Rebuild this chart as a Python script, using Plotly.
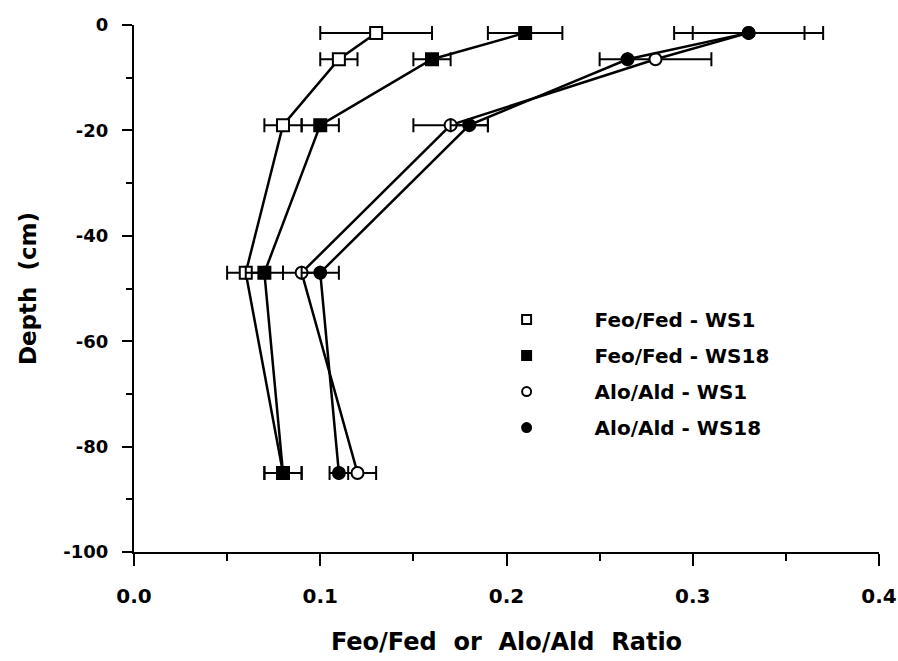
import plotly.graph_objects as go

depth = [-1.5, -6.5, -19, -47, -85]

feo_ws1 = [0.13, 0.11, 0.08, 0.06, 0.08]
feo_ws1_err = [0.03, 0.01, 0.01, 0.01, 0.01]
feo_ws18 = [0.21, 0.16, 0.10, 0.07, 0.08]
feo_ws18_err = [0.02, 0.01, 0.01, 0.01, 0.01]
alo_ws1 = [0.33, 0.28, 0.17, 0.09, 0.12]
alo_ws1_err = [0.04, 0.03, 0.02, 0.01, 0.01]
alo_ws18 = [0.33, 0.265, 0.18, 0.10, 0.11]
alo_ws18_err = [0.03, 0.0, 0.01, 0.01, 0.005]

series_names = ["Feo/Fed - WS1", "Feo/Fed - WS18", "Alo/Ald - WS1", "Alo/Ald - WS18"]
x_tickvals = [0.0, 0.1, 0.2, 0.3, 0.4]
x_ticktext = ["0.0", "0.1", "0.2", "0.3", "0.4"]
y_tickvals = [0, -20, -40, -60, -80, -100]
y_ticktext = ["0", "-20", "-40", "-60", "-80", "-100"]
x_title = "Feo/Fed\u00a0 or\u00a0 Alo/Ald\u00a0 Ratio"
y_title = "Depth\u00a0 (cm)"

FONT = "DejaVu Sans"
series = [
    (feo_ws1, feo_ws1_err, "square", "white"),
    (feo_ws18, feo_ws18_err, "square", "black"),
    (alo_ws1, alo_ws1_err, "circle", "white"),
    (alo_ws18, alo_ws18_err, "circle", "black"),
]

fig = go.Figure()
for (vals, errs, sym, fill), name in zip(series, series_names):
    fig.add_trace(go.Scatter(
        x=vals, y=depth, mode="lines+markers", name=name, showlegend=False,
        line=dict(color="black", width=2.5),
        marker=dict(symbol=sym, size=12, color=fill, line=dict(color="black", width=2)),
        error_x=dict(type="data", array=errs, visible=True, color="black", thickness=2, width=7),
        cliponaxis=False,
    ))
for (vals, errs, sym, fill), name in zip(series, series_names):
    fig.add_trace(go.Scatter(
        x=[None], y=[None], mode="markers", name=name, legendgroup=name,
        marker=dict(symbol=sym, size=9, color=fill, line=dict(color="black", width=2)),
    ))

fig.update_layout(
    width=898, height=661,
    margin=dict(l=134, r=19, t=25, b=109),
    paper_bgcolor="white", plot_bgcolor="white",
    font=dict(family=FONT, color="black", weight="bold"),
    showlegend=True,
    legend=dict(
        x=0.4357, y=0.478, xanchor="left", yanchor="top",
        font=dict(family=FONT, size=20, weight="bold", color="black"),
        itemwidth=126, tracegroupgap=7, bgcolor="rgba(0,0,0,0)",
    ),
    xaxis=dict(
        range=[0, 0.4], tickvals=x_tickvals, ticktext=x_ticktext, automargin=False,
        showgrid=False, zeroline=False, showline=True, linecolor="black", linewidth=2,
        ticks="outside", ticklen=12, tickwidth=2, tickcolor="black",
        tickfont=dict(family=FONT, size=20, weight="bold"), ticklabelstandoff=13,
        minor=dict(dtick=0.05, ticks="outside", ticklen=7, tickwidth=2, tickcolor="black", showgrid=False),
        title=dict(text=x_title, font=dict(family=FONT, size=24, weight="bold"), standoff=26),
    ),
    yaxis=dict(
        range=[-100, 0], tickvals=y_tickvals, ticktext=y_ticktext, automargin=False,
        showgrid=False, zeroline=False, showline=True, linecolor="black", linewidth=2,
        ticks="outside", ticklen=10, tickwidth=2, tickcolor="black",
        tickfont=dict(family=FONT, size=18, weight="bold"), ticklabelstandoff=10,
        minor=dict(dtick=10, ticks="outside", ticklen=6, tickwidth=2, tickcolor="black", showgrid=False),
        title=dict(text=y_title, font=dict(family=FONT, size=23, weight="bold"), standoff=20),
    ),
)

fig.write_html("out.html")
